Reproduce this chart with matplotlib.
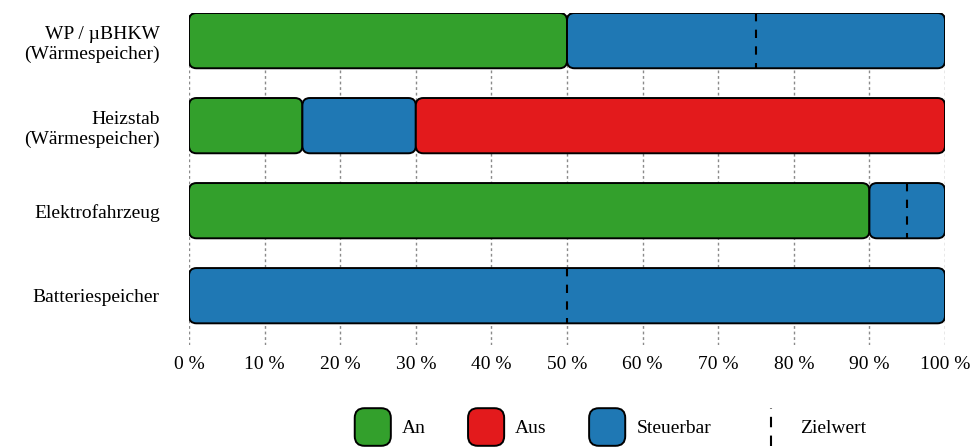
import matplotlib
matplotlib.use("Agg")
import matplotlib.pyplot as plt
from matplotlib.patches import FancyBboxPatch, Patch
from matplotlib.lines import Line2D
from matplotlib.legend_handler import HandlerPatch, HandlerBase

# ---- data ----
categories = ["WP / µBHKW\n(Wärmespeicher)", "Heizstab\n(Wärmespeicher)",
              "Elektrofahrzeug", "Batteriespeicher"]
an = [50, 15, 90, 0]
steuerbar = [50, 15, 10, 100]
aus = [0, 70, 0, 0]
zielwert = [75, None, 95, 50]
xticks = [0, 10, 20, 30, 40, 50, 60, 70, 80, 90, 100]
xticklabels = [f"{t} %" for t in xticks]
series_names = ["An", "Aus", "Steuerbar"]

# ---- style ----
C_AN, C_AUS, C_ST = "#33a02c", "#e31a1c", "#1f78b4"
plt.rcParams['font.family'] = ['Liberation Serif', 'DejaVu Serif']
FS = 14
W, H = 971, 447
fig = plt.figure(figsize=(W / 100, H / 100), dpi=100)
ax_left, ax_right, ax_top, ax_bot = 189, 945, 13, 345
ax = fig.add_axes([ax_left / W, 1 - ax_bot / H, (ax_right - ax_left) / W, (ax_bot - ax_top) / H])

bar_h = 0.65
ypos = list(range(len(categories)))
ax.set_xlim(0, 100)
ax.set_ylim(len(categories) - 1 + 0.58, -bar_h / 2)

# pixel scale for rounded corners
p0 = ax.transData.transform((0, 0))
p1 = ax.transData.transform((1, 1))
px_x = abs(p1[0] - p0[0])
px_y = abs(p1[1] - p0[1])
r_px = 7.5
aspect = px_x / px_y

def rounded_from_bars(bars, color):
    for b in bars:
        x, y = b.get_x(), b.get_y()
        w, h = b.get_width(), b.get_height()
        b.remove()
        if w <= 0:
            continue
        p = FancyBboxPatch((x, y), w, h,
                           boxstyle=f"round,pad=0,rounding_size={r_px / px_x}",
                           mutation_aspect=aspect,
                           fc=color, ec="black", lw=1.4, zorder=3)
        ax.add_patch(p)

left = [0] * len(categories)
for vals, col in [(an, C_AN), (steuerbar, C_ST), (aus, C_AUS)]:
    bars = ax.barh(ypos, vals, left=left, height=bar_h)
    rounded_from_bars(bars, col)
    left = [l + v for l, v in zip(left, vals)]

for y, z in zip(ypos, zielwert):
    if z is not None:
        ax.vlines(z, y - bar_h / 2, y + bar_h / 2, colors="black", lw=1.5,
                  linestyles=[(0, (4, 4))], zorder=4)

ax.set_axisbelow(True)
ax.xaxis.grid(True, linestyle=(0, (2, 2)), color="#8a8a8a", lw=1.0)
ax.set_xticks(xticks)
ax.set_xticklabels(xticklabels, fontsize=FS)
ax.set_yticks(ypos)
ax.set_yticklabels(categories, fontsize=FS, ha="right")
for t in ax.get_yticklabels():
    t.set_linespacing(1.25)
ax.tick_params(axis="x", length=0, pad=8)
ax.tick_params(axis="y", length=0, pad=21)
for s in ax.spines.values():
    s.set_visible(False)

# ---- legend ----
class RoundHandler(HandlerPatch):
    def create_artists(self, legend, orig_handle, xdescent, ydescent, width, height, fontsize, trans):
        p = FancyBboxPatch((-xdescent + 1, -ydescent), width - 2, height,
                           boxstyle=f"round,pad=0,rounding_size={7}",
                           fc=orig_handle.get_facecolor(), ec="black", lw=1.4,
                           transform=trans)
        return [p]

class VLineHandler(HandlerBase):
    def create_artists(self, legend, orig_handle, xdescent, ydescent, width, height, fontsize, trans):
        x = -xdescent + width / 2
        l = Line2D([x, x], [-ydescent, -ydescent + height], color="black", lw=1.5,
                   linestyle=(0, (5, 4)), transform=trans)
        return [l]

handles = [Patch(fc=C_AN), Patch(fc=C_AUS), Patch(fc=C_ST),
           Line2D([], [], color="black")]
labels = series_names + ["Zielwert"]
hmap = {handles[0]: RoundHandler(), handles[1]: RoundHandler(),
        handles[2]: RoundHandler(), handles[3]: VLineHandler()}
fig.legend(handles, labels, handler_map=hmap, loc="center",
           bbox_to_anchor=(610 / W, 1 - 427 / H), ncol=4, frameon=False,
           fontsize=FS, handlelength=2.0, handleheight=2.6,
           handletextpad=0.5, columnspacing=2.1)

fig.savefig("out.png", dpi=100)
